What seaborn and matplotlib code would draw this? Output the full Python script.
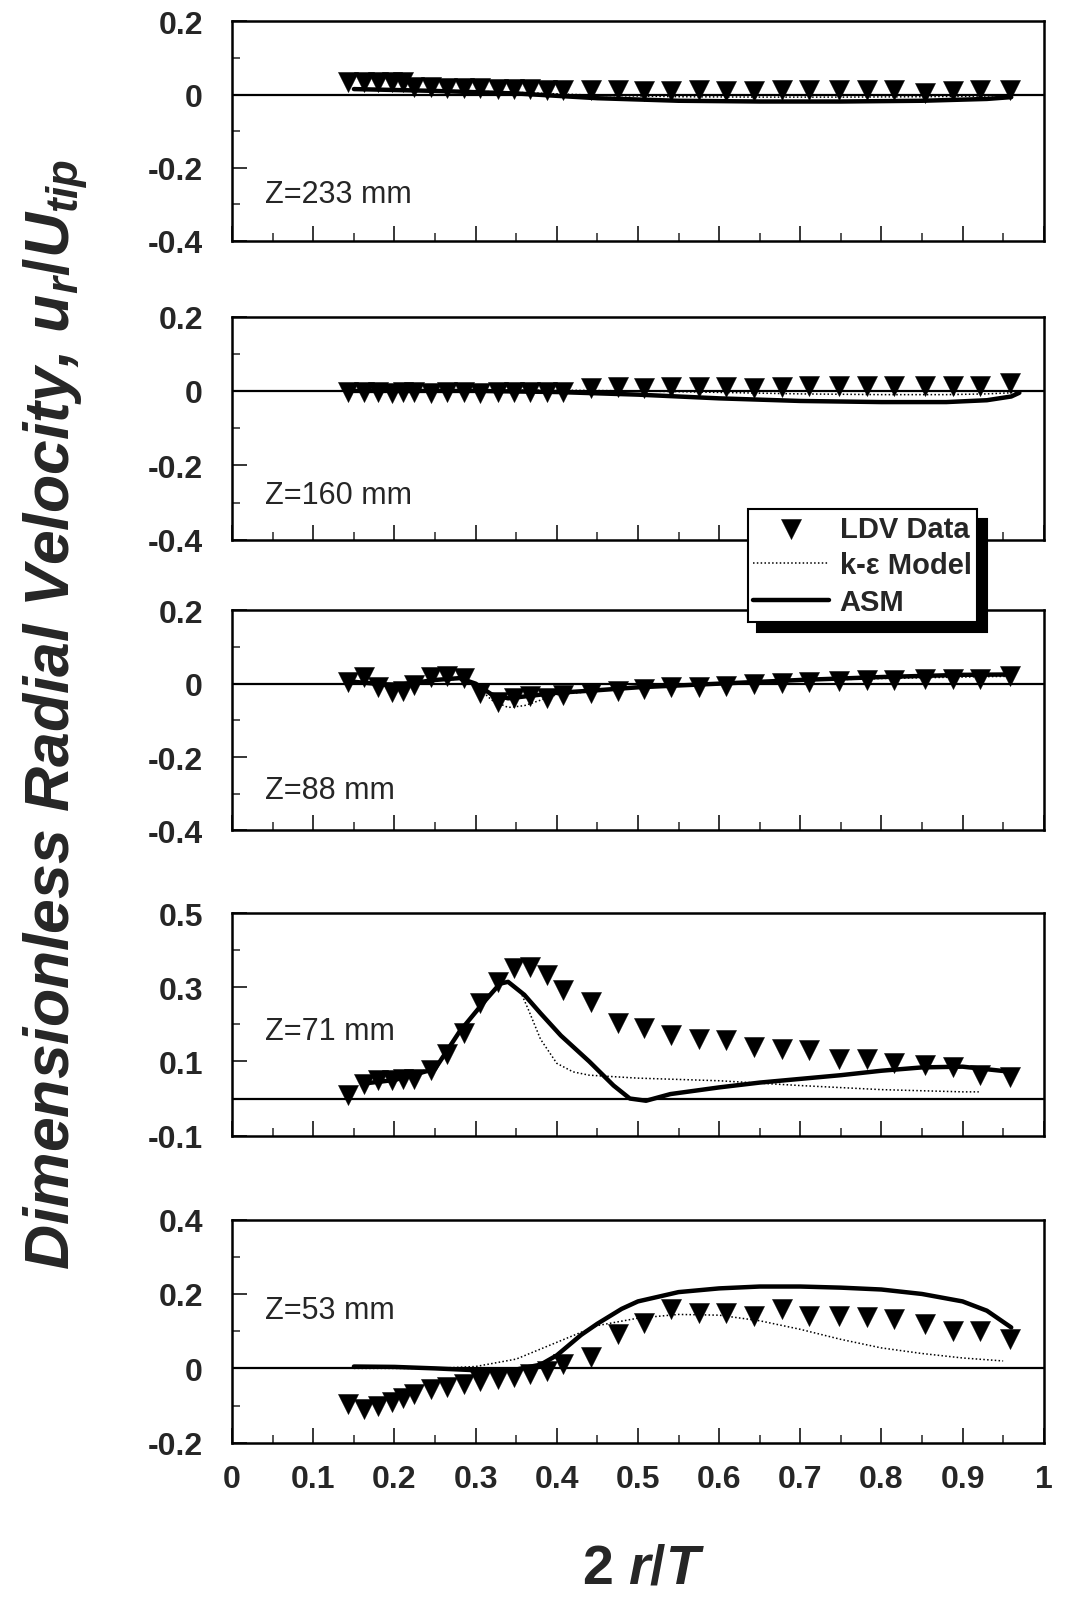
import numpy as np
import matplotlib
matplotlib.use("Agg")
import matplotlib.pyplot as plt
from matplotlib.ticker import MultipleLocator
import seaborn as sns

# radial positions of the LDV points (2r/T)
r_ldv = [0.143, 0.163, 0.18, 0.197, 0.211, 0.224, 0.245, 0.265, 0.286, 0.306,
         0.327, 0.347, 0.367, 0.388, 0.408, 0.442, 0.476, 0.507, 0.541, 0.575,
         0.609, 0.643, 0.677, 0.711, 0.748, 0.782, 0.816, 0.854, 0.888, 0.922, 0.959]

# Z = 233 mm
ldv_233 = [0.035, 0.035, 0.033, 0.033, 0.035, 0.02, 0.02, 0.018, 0.018, 0.017,
           0.016, 0.015, 0.014, 0.012, 0.012, 0.012, 0.012, 0.01, 0.01, 0.012,
           0.01, 0.01, 0.012, 0.012, 0.012, 0.012, 0.012, 0.005, 0.01, 0.012, 0.012]
asm_233_x = [0.15, 0.25, 0.35, 0.45, 0.55, 0.65, 0.75, 0.85, 0.93, 0.96]
asm_233_y = [0.015, 0.01, 0.003, -0.01, -0.017, -0.019, -0.019, -0.017, -0.012, -0.007]
ke_233_x = [0.15, 0.25, 0.35, 0.45, 0.55, 0.65, 0.75, 0.85, 0.93, 0.96]
ke_233_y = [0.015, 0.012, 0.006, -0.002, -0.006, -0.007, -0.007, -0.006, -0.004, -0.002]

# Z = 160 mm
ldv_160 = [-0.003, -0.004, -0.004, -0.005, -0.004, -0.004, -0.005, -0.004, -0.004, -0.005,
           -0.004, -0.004, -0.004, -0.003, -0.002, 0.008, 0.01, 0.009, 0.01, 0.01,
           0.011, 0.009, 0.011, 0.012, 0.012, 0.012, 0.012, 0.013, 0.013, 0.012, 0.02]
asm_160_x = [0.15, 0.3, 0.4, 0.5, 0.6, 0.7, 0.8, 0.88, 0.93, 0.96, 0.97]
asm_160_y = [0.0, 0.0, -0.003, -0.01, -0.02, -0.027, -0.03, -0.03, -0.025, -0.015, -0.005]
ke_160_x = [0.15, 0.3, 0.4, 0.5, 0.6, 0.7, 0.8, 0.88, 0.93, 0.96, 0.97]
ke_160_y = [0.002, 0.002, 0.002, 0.0, -0.004, -0.008, -0.01, -0.01, -0.008, -0.005, -0.002]

# Z = 88 mm
ldv_88 = [0.005, 0.018, -0.01, -0.022, -0.02, -0.005, 0.018, 0.02, 0.015, -0.025,
          -0.05, -0.04, -0.035, -0.04, -0.03, -0.025, -0.02, -0.014, -0.01, -0.008,
          -0.006, -0.002, 0.002, 0.004, 0.006, 0.009, 0.011, 0.012, 0.013, 0.014, 0.02]
asm_88_x = [0.15, 0.2, 0.25, 0.28, 0.3, 0.32, 0.34, 0.36, 0.4, 0.45, 0.5, 0.6, 0.7, 0.8, 0.9, 0.96]
asm_88_y = [0.005, -0.005, 0.01, 0.015, 0.0, -0.03, -0.04, -0.035, -0.025, -0.018, -0.01,
            0.0, 0.01, 0.018, 0.024, 0.025]
ke_88_x = [0.15, 0.2, 0.25, 0.28, 0.3, 0.32, 0.34, 0.36, 0.4, 0.45, 0.5, 0.6, 0.7, 0.8, 0.9, 0.96]
ke_88_y = [0.005, -0.005, 0.01, 0.012, -0.005, -0.045, -0.065, -0.06, -0.03, -0.02, -0.012,
           -0.002, 0.008, 0.014, 0.018, 0.02]

# Z = 71 mm
ldv_71 = [0.009, 0.04, 0.05, 0.05, 0.054, 0.054, 0.077, 0.12, 0.176, 0.257,
          0.315, 0.351, 0.356, 0.333, 0.293, 0.261, 0.203, 0.19, 0.171, 0.162,
          0.158, 0.14, 0.135, 0.131, 0.108, 0.108, 0.095, 0.09, 0.086, 0.063, 0.059]
asm_71_x = [0.16, 0.2, 0.25, 0.28, 0.31, 0.33, 0.34, 0.36, 0.38, 0.405, 0.44, 0.47, 0.49,
            0.51, 0.54, 0.6, 0.65, 0.7, 0.75, 0.8, 0.85, 0.9, 0.96]
asm_71_y = [0.04, 0.05, 0.08, 0.18, 0.26, 0.31, 0.315, 0.28, 0.23, 0.17, 0.10, 0.035, 0.0,
            -0.006, 0.012, 0.03, 0.043, 0.053, 0.063, 0.075, 0.084, 0.086, 0.072]
ke_71_x = [0.16, 0.2, 0.25, 0.28, 0.31, 0.33, 0.34, 0.355, 0.365, 0.38, 0.4, 0.42, 0.44,
           0.5, 0.6, 0.7, 0.8, 0.9, 0.92]
ke_71_y = [0.04, 0.05, 0.08, 0.18, 0.26, 0.31, 0.315, 0.29, 0.24, 0.16, 0.095, 0.072, 0.063,
           0.055, 0.048, 0.035, 0.024, 0.018, 0.018]

# Z = 53 mm
ldv_53 = [-0.095, -0.11, -0.10, -0.09, -0.08, -0.069, -0.055, -0.05, -0.042, -0.033,
          -0.029, -0.024, -0.015, -0.006, 0.012, 0.03, 0.092, 0.123, 0.159, 0.15,
          0.15, 0.141, 0.159, 0.141, 0.141, 0.137, 0.132, 0.119, 0.10, 0.10, 0.079]
asm_53_x = [0.15, 0.2, 0.25, 0.3, 0.35, 0.38, 0.4, 0.43, 0.45, 0.48, 0.5, 0.55, 0.6, 0.65,
            0.7, 0.75, 0.8, 0.85, 0.9, 0.93, 0.96]
asm_53_y = [0.005, 0.004, 0.0, -0.005, -0.003, 0.01, 0.035, 0.09, 0.12, 0.16, 0.18, 0.205,
            0.215, 0.22, 0.22, 0.217, 0.212, 0.2, 0.18, 0.155, 0.11]
ke_53_x = [0.15, 0.25, 0.3, 0.35, 0.4, 0.45, 0.5, 0.55, 0.6, 0.65, 0.7, 0.75, 0.8, 0.85, 0.9, 0.95]
ke_53_y = [0.0, 0.0, 0.005, 0.025, 0.07, 0.115, 0.135, 0.145, 0.143, 0.128, 0.105, 0.078,
           0.055, 0.04, 0.028, 0.02]

panels = [
    ("Z=233 mm", ldv_233, asm_233_x, asm_233_y, ke_233_x, ke_233_y),
    ("Z=160 mm", ldv_160, asm_160_x, asm_160_y, ke_160_x, ke_160_y),
    ("Z=88 mm", ldv_88, asm_88_x, asm_88_y, ke_88_x, ke_88_y),
    ("Z=71 mm", ldv_71, asm_71_x, asm_71_y, ke_71_x, ke_71_y),
    ("Z=53 mm", ldv_53, asm_53_x, asm_53_y, ke_53_x, ke_53_y),
]
ylims = [(-0.4, 0.2), (-0.4, 0.2), (-0.4, 0.2), (-0.1, 0.5), (-0.2, 0.4)]
yticks = [[0.2, 0, -0.2, -0.4], [0.2, 0, -0.2, -0.4], [0.2, 0, -0.2, -0.4],
          [0.5, 0.3, 0.1, -0.1], [0.4, 0.2, 0, -0.2]]
ytick_labels = [["0.2", "0", "-0.2", "-0.4"], ["0.2", "0", "-0.2", "-0.4"],
                ["0.2", "0", "-0.2", "-0.4"], ["0.5", "0.3", "0.1", "-0.1"],
                ["0.4", "0.2", "0", "-0.2"]]
xtick_vals = [0, 0.1, 0.2, 0.3, 0.4, 0.5, 0.6, 0.7, 0.8, 0.9, 1]
xtick_labels = ["0", "0.1", "0.2", "0.3", "0.4", "0.5", "0.6", "0.7", "0.8", "0.9", "1"]
label_y = [-0.271, -0.279, -0.291, 0.182, 0.158]
# axes boxes in figure fraction: left, bottom, width, height
boxes = [(0.218, 0.8495, 0.762, 0.1365), (0.218, 0.6633, 0.762, 0.139),
         (0.218, 0.4823, 0.762, 0.1371), (0.218, 0.2923, 0.762, 0.1384),
         (0.218, 0.101, 0.762, 0.139)]

sns.set_style("ticks")
plt.rcParams["font.family"] = ["Liberation Sans", "DejaVu Sans"]
plt.rcParams["mathtext.fontset"] = "custom"
plt.rcParams["mathtext.it"] = "Liberation Sans:italic:bold"
plt.rcParams["mathtext.rm"] = "Liberation Sans:bold"

fig = plt.figure(figsize=(10.65, 16.06), dpi=100)

for i, (name, ldv, ax_, ay_, kx_, ky_) in enumerate(panels):
    ax = fig.add_axes(boxes[i])
    ax.axhline(0, color="k", lw=1.6, zorder=1)
    sns.lineplot(x=kx_, y=ky_, ax=ax, color="k", lw=1.1, linestyle=(0, (1, 1.5)),
                 estimator=None, sort=False, label="k-ε Model")
    sns.lineplot(x=ax_, y=ay_, ax=ax, color="k", lw=3.2,
                 estimator=None, sort=False, label="ASM")
    sns.scatterplot(x=r_ldv, y=ldv, ax=ax, marker="v", s=210, color="k",
                    edgecolor="k", linewidth=0.3, zorder=3, label="LDV Data")
    if ax.get_legend() is not None:
        ax.get_legend().remove()

    ax.set_xlim(0, 1)
    ax.set_ylim(*ylims[i])
    ax.set_yticks(yticks[i])
    ax.set_yticklabels(ytick_labels[i], fontweight="bold")
    step = yticks[i][0] - yticks[i][1]
    ax.yaxis.set_minor_locator(MultipleLocator(step / 2))
    ax.xaxis.set_major_locator(MultipleLocator(0.1))
    ax.xaxis.set_minor_locator(MultipleLocator(0.05))
    ax.tick_params(axis="both", which="major", direction="in", length=11, width=1.3,
                   labelsize=23)
    ax.tick_params(axis="y", which="major", pad=21)
    ax.tick_params(axis="both", which="minor", direction="in", length=6, width=1.1)
    ax.tick_params(top=False, right=False)
    if i < 4:
        ax.set_xticklabels([])
    else:
        ax.set_xticks(xtick_vals)
        ax.set_xticklabels(xtick_labels, fontweight="bold")
        ax.tick_params(axis="x", which="major", pad=15)
    ax.set_xlabel("")
    ax.set_ylabel("")
    for sp in ax.spines.values():
        sp.set_linewidth(1.8)
        sp.set_color("k")
    ax.text(0.04, label_y[i], name, fontsize=22, va="center", ha="left")

    if i == 4:
        handles, labels = ax.get_legend_handles_labels()

order = [labels.index("LDV Data"), labels.index("k-ε Model"), labels.index("ASM")]
leg = fig.legend([handles[k] for k in order], [labels[k] for k in order],
                 loc="upper left", bbox_to_anchor=(0.702, 0.6825),
                 frameon=True, fancybox=False, edgecolor="k", framealpha=1,
                 shadow={"ox": 7, "oy": -7, "color": "k", "alpha": 1},
                 prop={"weight": "bold", "size": 21}, handlelength=2.6,
                 handletextpad=0.35, borderpad=0.2, labelspacing=0.3,
                 markerscale=1.0, borderaxespad=0)
leg.get_frame().set_linewidth(1.5)

fig.text(0.052, 0.555, r"Dimensionless Radial Velocity, $u_r/U_{tip}$",
         rotation=90, ha="center", va="center", fontsize=45, fontweight="bold",
         style="italic")
fig.text(0.604, 0.023, r"2 $r/T$", ha="center", va="center", fontsize=40,
         fontweight="bold")

fig.savefig("out.png", dpi=100)
